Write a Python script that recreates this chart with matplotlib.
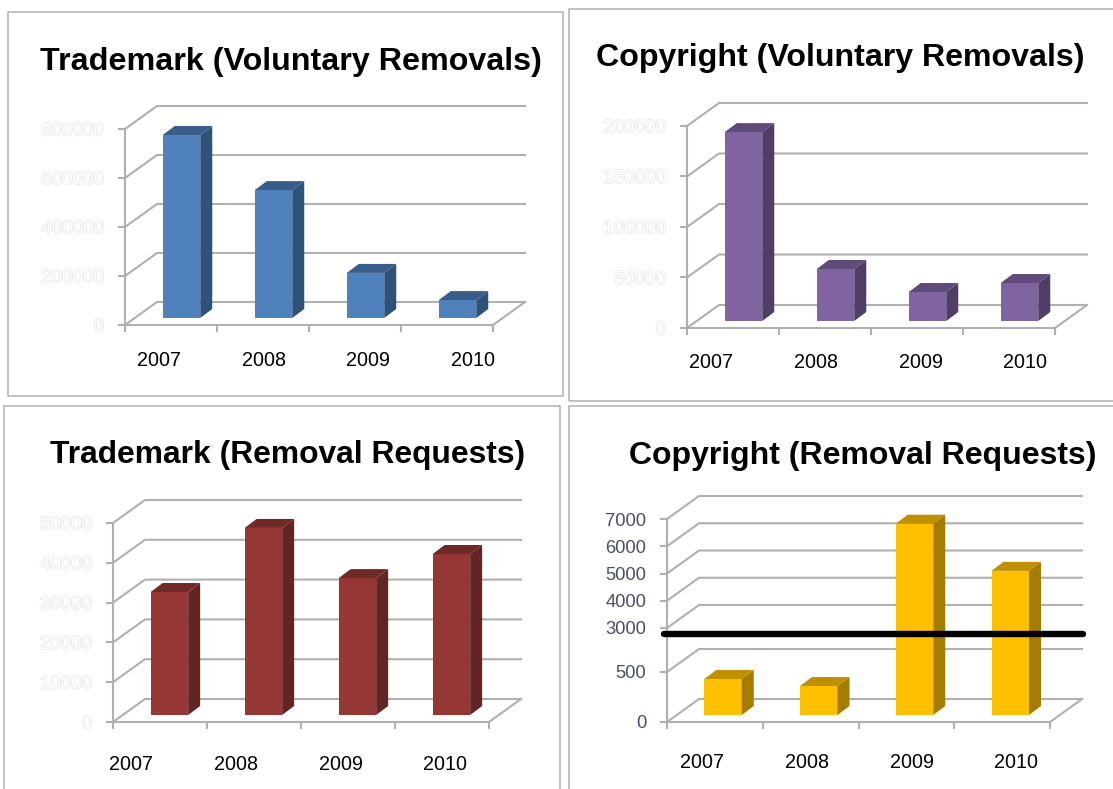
import numpy as np
import matplotlib
matplotlib.use('Agg')
import matplotlib.pyplot as plt
import matplotlib.patheffects as pe
from matplotlib.patches import Polygon, Rectangle
from matplotlib.transforms import Affine2D, IdentityTransform

plt.rcParams['font.family'] = ['Liberation Sans', 'DejaVu Sans']

W, H = 1113, 789
years = ['2007', '2008', '2009', '2010']

tm_vol = [747000, 522000, 184000, 73000]
cr_vol = [187000, 51500, 28700, 37600]
tm_req = [30900, 47000, 34400, 40450]
cr_req = [360, 290, 6570, 4840]

tm_vol_ticks = [0, 200000, 400000, 600000, 800000]
cr_vol_ticks = [0, 50000, 100000, 150000, 200000]
tm_req_ticks = [0, 10000, 20000, 30000, 40000, 50000]
cr_req_ticks = [0, 500, 3000, 4000, 5000, 6000, 7000]

# the last chart has a cut axis, 0-500 takes more room than 3000-7000
cut_vals = [0, 500, 3000, 7000]
cut_pos = [0, 50, 94, 203]

GRID = '#b0b0b0'
DX, DY = 32, 23
fig = plt.figure(figsize=(W / 100, H / 100), dpi=100)


def frame(x0, y0, x1, y1):
    fig.add_artist(Rectangle((x0 / W, 1 - y1 / H), (x1 - x0) / W, (y1 - y0) / H,
                             fill=False, ec='#b0b0b0', lw=1.1, transform=fig.transFigure))


def panel(vals, ticks, colors, title, title_xy, title_size, box, label_x, label_y, shift, ghost=True, cut=False):
    x0, x1, ytop, y0 = box
    ax = fig.add_axes([x0 / W, 1 - y0 / H, (x1 - x0) / W, (y0 - ytop) / H])
    ax.patch.set_alpha(0)
    if cut:
        ax.set_yscale('function', functions=(lambda v: np.interp(v, cut_vals, cut_pos),
                                             lambda p: np.interp(p, cut_pos, cut_vals)))
    ax.set_xlim(-0.5, 3.5)
    ax.set_ylim(0, ticks[-1])
    ax.set_autoscale_on(False)
    for s in ['top', 'right']:
        ax.spines[s].set_visible(False)
    for s in ['left', 'bottom']:
        ax.spines[s].set_color(GRID)
        ax.spines[s].set_linewidth(1.5)
    ax.set_xticks(np.arange(5) - 0.5)
    ax.set_xticklabels([])
    ax.set_yticks(ticks)
    ax.yaxis.set_minor_locator(plt.NullLocator())
    ax.xaxis.set_minor_locator(plt.NullLocator())
    ax.set_yticklabels([str(t) for t in ticks])
    ax.tick_params(axis='both', color=GRID, width=1.5, length=5)
    ax.tick_params(axis='y', pad=10, labelsize=13.6 if ghost else 13.2)
    for lab in ax.get_yticklabels():
        if ghost:
            lab.set_color('white')
            lab.set_path_effects([pe.withStroke(linewidth=1.0, foreground='#e2e6ea')])
        else:
            lab.set_color('#4a4f66')

    # walls of the 3d box
    tr = ax.transData
    for t in ticks:
        a = tr.transform((-0.5, t))
        b = tr.transform((3.5, t))
        pts = [a, a + (DX, DY), b + (DX, DY)]
        ax.add_line(plt.Line2D(*zip(*pts), color=GRID, lw=1.5, transform=IdentityTransform(),
                               clip_on=False, zorder=1))
    b = tr.transform((3.5, 0))
    ax.add_line(plt.Line2D([b[0], b[0] + DX], [b[1], b[1] + DY], color=GRID, lw=1.5,
                           transform=IdentityTransform(), clip_on=False, zorder=1))

    # bars: front from the axes, then side and top faces from the same points
    width = 37.5 / ((x1 - x0) / 4)
    lift = Affine2D().translate(0, 7)
    xs = np.arange(4) + shift
    ax.bar(xs, vals, width, color=colors[0], transform=tr + lift, clip_on=False, zorder=3)
    for x, v in zip(xs, vals):
        left = tr.transform((x - width / 2, v)) + (0, 7)
        right = tr.transform((x + width / 2, v)) + (0, 7)
        low = tr.transform((x + width / 2, 0)) + (0, 7)
        ax.add_patch(Polygon([low, right, right + (12, 9), low + (12, 9)], color=colors[1], lw=0,
                             transform=IdentityTransform(), clip_on=False, zorder=3))
        ax.add_patch(Polygon([left, right, right + (12, 9), left + (12, 9)], color=colors[2], lw=0,
                             transform=IdentityTransform(), clip_on=False, zorder=3))

    fig.text(title_xy[0] / W, 1 - title_xy[1] / H, title, fontsize=title_size, fontweight='bold',
             ha='center', va='center', color='black')
    for lx, yr in zip(label_x, years):
        fig.text(lx / W, 1 - label_y / H, yr, fontsize=14.2, ha='center', va='center', color='black')
    return ax


frame(8, 12, 563, 396)
frame(569, 9, 1125, 401)
frame(4, 406, 560, 800)
frame(569, 406, 1125, 800)

panel(tm_vol, tm_vol_ticks, ('#4f81bd', '#2f5278', '#385d8a'), 'Trademark (Voluntary Removals)',
      (291, 62), 23.2, (125, 493, 129, 325), [159, 264, 368, 473], 361, 0.114)
panel(cr_vol, cr_vol_ticks, ('#8064a2', '#4f3d66', '#5f4b7a'), 'Copyright (Voluntary Removals)',
      (840, 58), 23.1, (687, 1055, 126, 328), [711, 816, 921, 1025], 362, 0.114)
panel(tm_req, tm_req_ticks, ('#953735', '#632523', '#6f2a28'), 'Trademark (Removal Requests)',
      (288, 455), 22.9, (113, 489, 523, 722), [131, 236, 341, 445], 764, 0.10)
panel(cr_req, cr_req_ticks, ('#ffc000', '#a67c00', '#bf9000'), 'Copyright (Removal Requests)',
      (863, 456), 23.0, (667, 1050, 519, 722), [702, 807, 912, 1016], 762, 0.085, ghost=False, cut=True)

# black bar marking the cut in the axis
fig.add_artist(plt.Line2D([664 / W, 1083 / W], [1 - 633.5 / H, 1 - 633.5 / H], color='black',
                          lw=4.6, solid_capstyle='round', zorder=10))

fig.savefig('out.png', dpi=100)
